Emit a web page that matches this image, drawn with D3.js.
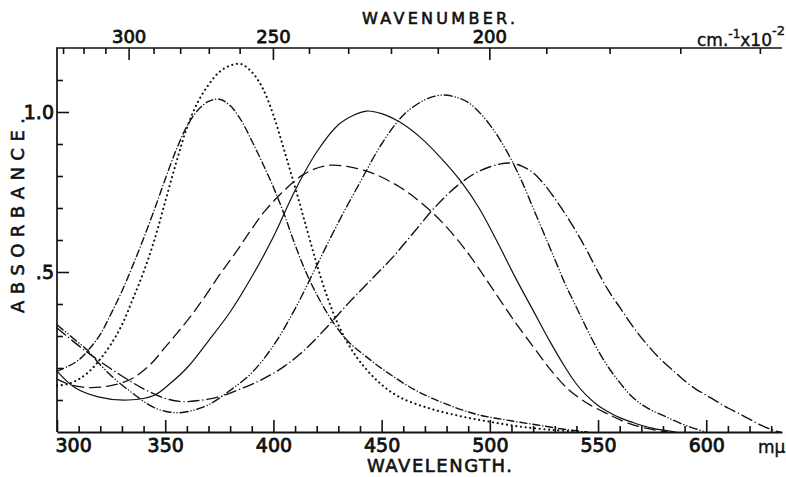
<!DOCTYPE html>
<html>
<head>
<meta charset="utf-8">
<script src="https://cdn.jsdelivr.net/npm/d3@7"></script>
<style>
  body { margin: 0; background: #fff; }
  svg { display: block; }
  text { font-family: "DejaVu Sans", sans-serif; fill: #111; }
</style>
</head>
<body>
<svg id="chart" width="786" height="477"></svg>
<script>
// absorbance curves, [wavelength mu, absorbance]
var dottedCurve = [[300,0.145],[305,0.15],[310,0.165],[315,0.19],[320,0.228],[325,0.275],[330,0.335],[335,0.415],[340,0.5],[345,0.6],[350,0.72],[355,0.84],[360,0.95],[365,1.03],[370,1.085],[375,1.125],[380,1.145],[385,1.15],[390,1.125],[395,1.075],[400,0.99],[405,0.88],[410,0.765],[415,0.645],[420,0.525],[425,0.42],[430,0.335],[435,0.27],[440,0.22],[448,0.16],[458,0.11],[472,0.074],[486,0.05],[500,0.032],[515,0.016],[530,0.006],[542,0]];
var dashDotShort = [[300,0.19],[305,0.205],[310,0.225],[315,0.26],[320,0.305],[325,0.37],[330,0.44],[335,0.52],[340,0.605],[345,0.695],[350,0.79],[355,0.88],[360,0.955],[365,1.005],[370,1.033],[375,1.04],[380,1.02],[385,0.975],[390,0.91],[395,0.84],[400,0.765],[405,0.68],[410,0.585],[415,0.5],[420,0.43],[425,0.37],[430,0.32],[435,0.28],[442,0.24],[452,0.189],[465,0.133],[478,0.092],[494,0.055],[508,0.037],[522,0.022],[535,0.008],[545,0]];
var solidCurve = [[300,0.19],[308,0.14],[319,0.11],[333,0.10],[345,0.115],[352,0.15],[360,0.2],[370,0.285],[380,0.375],[390,0.485],[400,0.61],[410,0.755],[420,0.875],[430,0.96],[437,0.99],[443,1.003],[450,0.995],[458,0.97],[468,0.92],[478,0.852],[487,0.78],[495,0.7],[503,0.6],[512,0.48],[520,0.38],[528,0.28],[535,0.2],[540,0.15],[545,0.112],[550,0.083],[555,0.062],[560,0.045],[566,0.03],[575,0.012],[586,0]];
var dashedCurve = [[300,0.165],[305,0.15],[312,0.14],[320,0.14],[328,0.15],[335,0.168],[343,0.21],[350,0.265],[355,0.305],[361,0.355],[367,0.41],[375,0.49],[383,0.565],[390,0.635],[396,0.69],[405,0.755],[414,0.805],[424,0.832],[434,0.83],[446,0.808],[458,0.767],[468,0.718],[478,0.655],[489,0.567],[499,0.47],[505,0.41],[511,0.35],[520,0.267],[528,0.195],[536,0.135],[545,0.09],[554,0.058],[563,0.03],[572,0.012],[582,0]];
var dashDotDot = [[300,0.335],[308,0.29],[314,0.256],[320,0.21],[326,0.17],[334,0.126],[344,0.079],[350,0.065],[356,0.06],[363,0.068],[370,0.085],[380,0.13],[390,0.185],[400,0.27],[410,0.385],[420,0.52],[430,0.655],[440,0.78],[450,0.9],[460,0.99],[470,1.038],[478,1.053],[485,1.045],[490,1.03],[495,1.0],[500,0.96],[505,0.91],[510,0.85],[515,0.78],[520,0.7],[525,0.62],[530,0.54],[535,0.46],[540,0.39],[545,0.32],[550,0.255],[555,0.2],[560,0.155],[565,0.115],[570,0.087],[575,0.067],[580,0.052],[585,0.036],[590,0.022],[595,0.01],[600,0]];
var dashDotLong = [[300,0.325],[310,0.27],[320,0.22],[330,0.175],[340,0.135],[350,0.105],[358,0.095],[365,0.098],[375,0.11],[385,0.135],[395,0.165],[405,0.205],[415,0.26],[425,0.33],[435,0.405],[445,0.475],[455,0.545],[465,0.625],[475,0.705],[485,0.77],[495,0.815],[505,0.838],[510,0.84],[515,0.83],[520,0.81],[525,0.775],[530,0.73],[535,0.68],[540,0.625],[545,0.565],[550,0.5],[555,0.44],[560,0.39],[565,0.34],[570,0.295],[575,0.255],[580,0.22],[585,0.19],[590,0.16],[595,0.135],[600,0.115],[605,0.095],[610,0.075],[615,0.058],[620,0.04],[625,0.022],[630,0.008],[634,0]];

// ticks
var wavelengthTicks = d3.range(300, 631, 10);
var wavelengthLabels = [300, 350, 400, 450, 500, 550, 600];
var wavenumberTicks = d3.range(160, 331, 10);   // cm-1 x 10^-2
var wavenumberLabels = [300, 250, 200];
var absTicks = [0.1, 0.2, 0.3, 0.4, 0.5, 0.6, 0.7, 0.8, 0.9, 1.0, 1.1];
var absLabels = {0.5: ".5", 1.0: "1.0"};

var svg = d3.select("#chart");

var x = d3.scaleLinear().domain([300, 635]).range([57, 782]);
var y = d3.scaleLinear().domain([0, 1.2]).range([432, 48]);

// wavenumber (hundreds of cm-1) -> pixel, via wavelength
var xw = function(w) { return x(1e5 / w); };

var ink = "#111";

// frame lines: left, top
svg.append("path")
  .attr("d", "M" + x(300) + "," + y(0) + "V" + y(1.2) + "H" + x(635))
  .attr("stroke", ink).attr("stroke-width", 1.7).attr("fill", "none");

// bottom axis, ticks drawn as thin rects pointing up
var bottom = svg.append("g")
  .attr("transform", "translate(0," + y(0) + ")")
  .call(d3.axisBottom(x).tickValues(wavelengthTicks).tickSize(0).tickSizeOuter(0)
    .tickFormat(function(d) { return wavelengthLabels.indexOf(d) >= 0 ? d : ""; }));
bottom.select(".domain").attr("stroke", ink).attr("stroke-width", 1.8);
bottom.selectAll(".tick line").remove();
bottom.selectAll(".tick").append("rect")
  .attr("x", -0.8).attr("width", 1.6)
  .attr("y", function(d) { return d % 50 === 0 ? -12 : -6; })
  .attr("height", function(d) { return d % 50 === 0 ? 12 : 6; })
  .attr("fill", ink);
bottom.selectAll(".tick text")
  .attr("y", 20).attr("dy", 0)
  .attr("font-size", 19).attr("fill", ink)
  .attr("font-family", "DejaVu Sans, sans-serif")
  .attr("stroke", ink).attr("stroke-width", 0.8)
  .attr("text-anchor", function(d) { return d === 300 ? "start" : "middle"; })
  .attr("dx", function(d) { return d === 300 ? -2 : 0; });

// left axis
var left = svg.append("g")
  .attr("transform", "translate(" + x(300) + ",0)")
  .call(d3.axisLeft(y).tickValues(absTicks).tickSize(-6).tickSizeOuter(0)
    .tickFormat(function(d) { return absLabels[d] || ""; }));
left.select(".domain").remove();
left.selectAll(".tick line")
  .attr("stroke", ink).attr("stroke-width", 1.6)
  .attr("x2", function(d) { return (d === 0.5 || d === 1.0) ? 12 : 6; });
left.selectAll(".tick text")
  .attr("x", -3).attr("dy", "0.36em")
  .attr("font-size", 19).attr("fill", ink)
  .attr("font-family", "DejaVu Sans, sans-serif")
  .attr("stroke", ink).attr("stroke-width", 0.8);

// top axis (wavenumber), ticks as rects pointing down
svg.append("g").selectAll("rect")
  .data(wavenumberTicks)
  .join("rect")
  .attr("x", function(d) { return xw(d) - 0.8; })
  .attr("y", y(1.2))
  .attr("width", 1.6)
  .attr("height", function(d) { return wavenumberLabels.indexOf(d) >= 0 ? 12 : 6; })
  .attr("fill", ink);
svg.append("g").selectAll("text")
  .data(wavenumberLabels)
  .join("text")
  .attr("x", xw).attr("y", 43)
  .attr("text-anchor", "middle")
  .attr("font-size", 18)
  .attr("stroke", ink).attr("stroke-width", 0.8)
  .text(function(d) { return d; });

// curves
var line = d3.line()
  .x(function(d) { return x(d[0]); })
  .y(function(d) { return y(d[1]); })
  .curve(d3.curveCatmullRom.alpha(0.5));

var curves = [
  { data: solidCurve, dash: null, width: 1.2 },
  { data: dashedCurve, dash: "11,6", width: 1.3 },
  { data: dottedCurve, dash: "0.1,4.6", width: 2.1 },
  { data: dashDotShort, dash: "7,3,0.1,3", width: 1.4 },
  { data: dashDotDot, dash: "8,3,0.1,3,0.1,3", width: 1.4 },
  { data: dashDotLong, dash: "11,4,0.1,4", width: 1.4 }
];

svg.append("g").selectAll("path")
  .data(curves)
  .join("path")
  .attr("d", function(c) { return line(c.data); })
  .attr("fill", "none")
  .attr("stroke", ink)
  .attr("stroke-width", function(c) { return c.width; })
  .attr("stroke-linecap", "round")
  .attr("stroke-dasharray", function(c) { return c.dash; });

// titles
svg.append("text")
  .attr("x", 362).attr("y", 24)
  .attr("font-size", 16)
  .attr("textLength", 153).attr("lengthAdjust", "spacing")
  .attr("stroke", ink).attr("stroke-width", 0.6)
  .text("WAVENUMBER.");

var unit = svg.append("text")
  .attr("x", 697).attr("y", 46)
  .attr("font-size", 17)
  .attr("stroke", ink).attr("stroke-width", 0.4);
unit.append("tspan").text("cm.");
unit.append("tspan").attr("dy", -8).attr("font-size", 12).text("-1");
unit.append("tspan").attr("dy", 8).text("x10");
unit.append("tspan").attr("dy", -11).attr("font-size", 13).text("-2");

svg.append("text")
  .attr("x", 367).attr("y", 472)
  .attr("font-size", 18)
  .attr("textLength", 145).attr("lengthAdjust", "spacing")
  .attr("stroke", ink).attr("stroke-width", 0.6)
  .text("WAVELENGTH.");

svg.append("text")
  .attr("x", 758).attr("y", 453)
  .attr("font-size", 17)
  .attr("stroke", ink).attr("stroke-width", 0.4)
  .text("mμ");

svg.append("text")
  .attr("transform", "translate(24,313) rotate(-90)")
  .attr("font-size", 18)
  .attr("textLength", 195).attr("lengthAdjust", "spacing")
  .attr("stroke", ink).attr("stroke-width", 0.6)
  .text("ABSORBANCE.");
</script>
</body>
</html>
